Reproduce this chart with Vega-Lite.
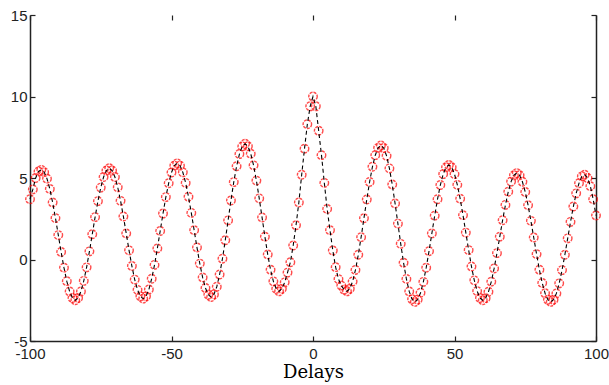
{
  "$schema": "https://vega.github.io/schema/vega-lite/v6.json",
  "autosize": {"type": "none"},
  "width": 566,
  "height": 326,
  "padding": {"left": 30, "top": 15, "right": 13, "bottom": 44},
  "background": "white",
  "config": {
    "view": {"stroke": null},
    "axis": {
      "labelFont": "Liberation Sans",
      "labelFontSize": 15,
      "labelColor": "#222",
      "domainColor": "#222",
      "domainWidth": 1.5,
      "tickColor": "#222",
      "tickWidth": 1.2,
      "grid": false
    }
  },
  "data": {"values": [
    {"lag": -100, "r": 3.7}, {"lag": -99, "r": 4.3}, {"lag": -98, "r": 5.0}, {"lag": -97, "r": 5.4}, {"lag": -96, "r": 5.5},
    {"lag": -95, "r": 5.36}, {"lag": -94, "r": 4.96}, {"lag": -93, "r": 4.33}, {"lag": -92, "r": 3.5}, {"lag": -91, "r": 2.54},
    {"lag": -90, "r": 1.5}, {"lag": -89, "r": 0.46}, {"lag": -88, "r": -0.5}, {"lag": -87, "r": -1.33}, {"lag": -86, "r": -1.96},
    {"lag": -85, "r": -2.36}, {"lag": -84, "r": -2.5}, {"lag": -83, "r": -2.36}, {"lag": -82, "r": -1.96}, {"lag": -81, "r": -1.31},
    {"lag": -80, "r": -0.48}, {"lag": -79, "r": 0.5}, {"lag": -78, "r": 1.55}, {"lag": -77, "r": 2.6}, {"lag": -76, "r": 3.58},
    {"lag": -75, "r": 4.41}, {"lag": -74, "r": 5.06}, {"lag": -73, "r": 5.46}, {"lag": -72, "r": 5.6}, {"lag": -71, "r": 5.46},
    {"lag": -70, "r": 5.06}, {"lag": -69, "r": 4.43}, {"lag": -68, "r": 3.6}, {"lag": -67, "r": 2.64}, {"lag": -66, "r": 1.6},
    {"lag": -65, "r": 0.56}, {"lag": -64, "r": -0.4}, {"lag": -63, "r": -1.23}, {"lag": -62, "r": -1.86}, {"lag": -61, "r": -2.26},
    {"lag": -60, "r": -2.4}, {"lag": -59, "r": -2.26}, {"lag": -58, "r": -1.84}, {"lag": -57, "r": -1.18}, {"lag": -56, "r": -0.33},
    {"lag": -55, "r": 0.68}, {"lag": -54, "r": 1.75}, {"lag": -53, "r": 2.82}, {"lag": -52, "r": 3.83}, {"lag": -51, "r": 4.68},
    {"lag": -50, "r": 5.34}, {"lag": -49, "r": 5.76}, {"lag": -48, "r": 5.9}, {"lag": -47, "r": 5.76}, {"lag": -46, "r": 5.35},
    {"lag": -45, "r": 4.7}, {"lag": -44, "r": 3.85}, {"lag": -43, "r": 2.86}, {"lag": -42, "r": 1.8}, {"lag": -41, "r": 0.74},
    {"lag": -40, "r": -0.25}, {"lag": -39, "r": -1.1}, {"lag": -38, "r": -1.75}, {"lag": -37, "r": -2.16}, {"lag": -36, "r": -2.3},
    {"lag": -35, "r": -2.14}, {"lag": -34, "r": -1.67}, {"lag": -33, "r": -0.92}, {"lag": -32, "r": 0.05}, {"lag": -31, "r": 1.18},
    {"lag": -30, "r": 2.4}, {"lag": -29, "r": 3.62}, {"lag": -28, "r": 4.75}, {"lag": -27, "r": 5.72}, {"lag": -26, "r": 6.47},
    {"lag": -25, "r": 6.94}, {"lag": -24, "r": 7.1}, {"lag": -23, "r": 6.95}, {"lag": -22, "r": 6.49}, {"lag": -21, "r": 5.78},
    {"lag": -20, "r": 4.84}, {"lag": -19, "r": 3.75}, {"lag": -18, "r": 2.58}, {"lag": -17, "r": 1.4}, {"lag": -16, "r": 0.31},
    {"lag": -15, "r": -0.63}, {"lag": -14, "r": -1.34}, {"lag": -13, "r": -1.8}, {"lag": -12, "r": -1.95}, {"lag": -11, "r": -1.8},
    {"lag": -10, "r": -1.4}, {"lag": -9, "r": -0.8}, {"lag": -8, "r": -0.17}, {"lag": -7, "r": 0.86}, {"lag": -6, "r": 2.1},
    {"lag": -5, "r": 3.5}, {"lag": -4, "r": 5.2}, {"lag": -3, "r": 6.8}, {"lag": -2, "r": 8.3}, {"lag": -1, "r": 9.4},
    {"lag": 0, "r": 10.0},
    {"lag": 1, "r": 9.4}, {"lag": 2, "r": 7.9}, {"lag": 3, "r": 6.4}, {"lag": 4, "r": 4.7}, {"lag": 5, "r": 3.1},
    {"lag": 6, "r": 1.8}, {"lag": 7, "r": 0.55}, {"lag": 8, "r": -0.47}, {"lag": 9, "r": -1.2}, {"lag": 10, "r": -1.6},
    {"lag": 11, "r": -1.85}, {"lag": 12, "r": -1.95}, {"lag": 13, "r": -1.8}, {"lag": 14, "r": -1.35}, {"lag": 15, "r": -0.64},
    {"lag": 16, "r": 0.29}, {"lag": 17, "r": 1.37}, {"lag": 18, "r": 2.53}, {"lag": 19, "r": 3.68}, {"lag": 20, "r": 4.76},
    {"lag": 21, "r": 5.69}, {"lag": 22, "r": 6.4}, {"lag": 23, "r": 6.85}, {"lag": 24, "r": 7.0}, {"lag": 25, "r": 6.84},
    {"lag": 26, "r": 6.36}, {"lag": 27, "r": 5.59}, {"lag": 28, "r": 4.6}, {"lag": 29, "r": 3.44}, {"lag": 30, "r": 2.2},
    {"lag": 31, "r": 0.96}, {"lag": 32, "r": -0.2}, {"lag": 33, "r": -1.19}, {"lag": 34, "r": -1.96}, {"lag": 35, "r": -2.44},
    {"lag": 36, "r": -2.6}, {"lag": 37, "r": -2.46}, {"lag": 38, "r": -2.04}, {"lag": 39, "r": -1.37}, {"lag": 40, "r": -0.5},
    {"lag": 41, "r": 0.51}, {"lag": 42, "r": 1.6}, {"lag": 43, "r": 2.69}, {"lag": 44, "r": 3.7}, {"lag": 45, "r": 4.57},
    {"lag": 46, "r": 5.24}, {"lag": 47, "r": 5.66}, {"lag": 48, "r": 5.8}, {"lag": 49, "r": 5.66}, {"lag": 50, "r": 5.24},
    {"lag": 51, "r": 4.58}, {"lag": 52, "r": 3.73}, {"lag": 53, "r": 2.72}, {"lag": 54, "r": 1.65}, {"lag": 55, "r": 0.58},
    {"lag": 56, "r": -0.43}, {"lag": 57, "r": -1.28}, {"lag": 58, "r": -1.94}, {"lag": 59, "r": -2.36}, {"lag": 60, "r": -2.5},
    {"lag": 61, "r": -2.37}, {"lag": 62, "r": -1.98}, {"lag": 63, "r": -1.36}, {"lag": 64, "r": -0.55}, {"lag": 65, "r": 0.39},
    {"lag": 66, "r": 1.4}, {"lag": 67, "r": 2.41}, {"lag": 68, "r": 3.35}, {"lag": 69, "r": 4.16}, {"lag": 70, "r": 4.78},
    {"lag": 71, "r": 5.17}, {"lag": 72, "r": 5.3}, {"lag": 73, "r": 5.17}, {"lag": 74, "r": 4.77}, {"lag": 75, "r": 4.14},
    {"lag": 76, "r": 3.33}, {"lag": 77, "r": 2.37}, {"lag": 78, "r": 1.35}, {"lag": 79, "r": 0.33}, {"lag": 80, "r": -0.63},
    {"lag": 81, "r": -1.44}, {"lag": 82, "r": -2.07}, {"lag": 83, "r": -2.47}, {"lag": 84, "r": -2.6}, {"lag": 85, "r": -2.47},
    {"lag": 86, "r": -2.08}, {"lag": 87, "r": -1.46}, {"lag": 88, "r": -0.65}, {"lag": 89, "r": 0.29}, {"lag": 90, "r": 1.3},
    {"lag": 91, "r": 2.31}, {"lag": 92, "r": 3.25}, {"lag": 93, "r": 4.06}, {"lag": 94, "r": 4.68}, {"lag": 95, "r": 5.1},
    {"lag": 96, "r": 5.2}, {"lag": 97, "r": 5.0}, {"lag": 98, "r": 4.5}, {"lag": 99, "r": 3.7}, {"lag": 100, "r": 2.7}
  ]},
  "resolve": {"axis": {"x": "independent", "y": "independent"}},
  "layer": [
    {
      "mark": {"type": "point", "shape": "circle", "filled": false, "color": "#ff0000", "size": 72, "strokeWidth": 1.4, "strokeDash": [3, 1], "strokeOpacity": 1, "clip": false},
      "encoding": {
        "x": {"field": "lag", "type": "quantitative",
              "scale": {"domain": [-100, 100], "nice": false, "zero": false},
              "axis": {"orient": "bottom", "values": [-100, -50, 0, 50, 100], "tickSize": -5, "labelPadding": 10,
                       "labelExpr": "'' + datum.value",
                       "title": "Delays", "titleFont": "DejaVu Serif", "titleFontSize": 18, "titleFontWeight": "normal",
                       "titleColor": "#000", "titlePadding": 2, "labelFlush": false}},
        "y": {"field": "r", "type": "quantitative",
              "scale": {"domain": [-5, 15], "nice": false, "zero": false},
              "axis": {"orient": "left", "values": [-5, 0, 5, 10, 15], "tickSize": -5, "labelPadding": 8,
                       "labelExpr": "'' + datum.value", "title": null}}
      }
    },
    {
      "mark": {"type": "line", "color": "#000", "strokeWidth": 1.1, "strokeDash": [4, 3]},
      "encoding": {
        "x": {"field": "lag", "type": "quantitative",
              "scale": {"domain": [-100, 100], "nice": false, "zero": false},
              "axis": {"orient": "top", "values": [-100, -50, 0, 50, 100], "tickSize": -5, "labels": false, "domain": false, "title": null}},
        "y": {"field": "r", "type": "quantitative",
              "scale": {"domain": [-5, 15], "nice": false, "zero": false},
              "axis": {"orient": "right", "values": [-5, 0, 5, 10, 15], "tickSize": -5, "labels": false, "title": null}}
      }
    }
  ]
}
